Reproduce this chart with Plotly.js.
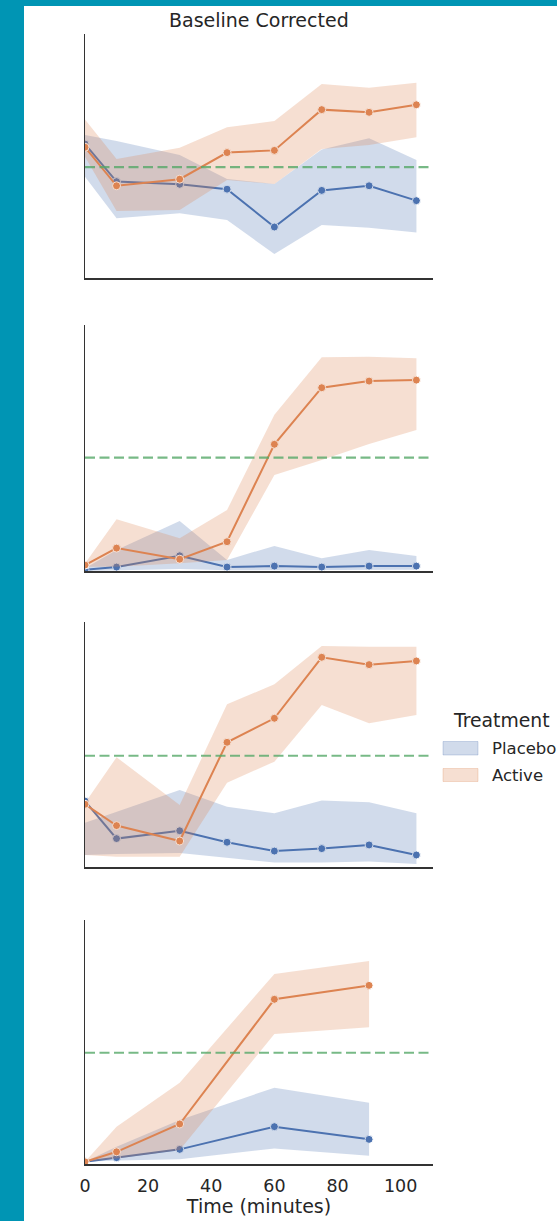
<!DOCTYPE html>
<html>
<head>
<meta charset="utf-8">
<script src="https://cdn.plot.ly/plotly-3.0.1.min.js"></script>
<style>
  html, body { margin: 0; padding: 0; background: #0095b4; width: 557px; height: 1221px; overflow: hidden; }
  #chart { position: absolute; left: 24px; top: 6px; width: 533px; height: 1215px; background: #ffffff; }
</style>
</head>
<body>
<div id="chart"></div>
<script>
// ---------------- data (arbitrary units, no y labels in the source) ----------------
const times = [0, 10, 30, 45, 60, 75, 90, 105];
const times4 = [0, 10, 30, 60, 90];
const xTickLabels = [0, 20, 40, 60, 80, 100];
const seriesNames = ["Placebo", "Active"];

const p1PlaceboMean  = [54.9, 39.5, 38.4, 36.4, 20.9, 35.9, 37.8, 31.7];
const p1PlaceboUpper = [58.6, 56.1, 50.4, 40.6, 38.5, 52.7, 57.3, 48.4];
const p1PlaceboLower = [41.5, 24.5, 26.5, 23.8, 9.8, 21.7, 20.6, 18.6];
const p1ActiveMean   = [53.6, 37.8, 40.5, 51.4, 52.3, 69.0, 67.9, 71.0];
const p1ActiveUpper  = [65.0, 48.8, 53.4, 61.8, 64.3, 79.5, 78.0, 80.0];
const p1ActiveLower  = [49.7, 27.5, 27.9, 40.2, 38.5, 52.9, 54.5, 57.7];

const p2PlaceboMean  = [0.5, 1.6, 6.2, 1.6, 2.0, 1.6, 2.0, 2.0];
const p2PlaceboUpper = [1.1, 8.5, 20.3, 4.5, 10.2, 5.2, 8.5, 6.1];
const p2PlaceboLower = [0.0, 0.3, 0.8, 0.3, 0.5, 0.4, 0.5, 0.5];
const p2ActiveMean   = [2.4, 9.3, 4.8, 11.9, 51.5, 74.5, 77.2, 77.6];
const p2ActiveUpper  = [3.0, 21.0, 13.3, 24.8, 63.5, 86.9, 87.1, 86.5];
const p2ActiveLower  = [1.7, 1.7, 3.1, 4.5, 39.0, 45.1, 51.6, 57.3];

const p3PlaceboMean  = [26.9, 11.6, 14.8, 10.1, 6.5, 7.5, 9.0, 4.9];
const p3PlaceboUpper = [18.1, 22.6, 31.4, 24.6, 21.9, 27.1, 26.4, 21.9];
const p3PlaceboLower = [4.9, 5.3, 5.7, 3.7, 1.8, 1.8, 2.2, 1.2];
const p3ActiveMean   = [25.6, 16.9, 10.6, 50.9, 60.7, 85.6, 82.6, 84.1];
const p3ActiveUpper  = [26.1, 44.8, 25.3, 66.4, 74.6, 90.2, 89.9, 89.9];
const p3ActiveLower  = [4.9, 4.2, 4.2, 34.4, 43.0, 66.1, 58.7, 62.0];

const p4PlaceboMean  = [0.9, 2.6, 6.0, 15.3, 10.1];
const p4PlaceboUpper = [0.9, 7.1, 18.0, 31.3, 25.1];
const p4PlaceboLower = [0.9, 1.4, 1.9, 6.4, 3.4];
const p4ActiveMean   = [0.9, 5.0, 16.4, 67.5, 73.2];
const p4ActiveUpper  = [0.9, 15.3, 33.3, 77.9, 83.2];
const p4ActiveLower  = [0.9, 2.3, 5.7, 53.3, 56.0];

const thresholds = [45.4, 46.1, 45.4, 45.6];

// ---------------- styling ----------------
const BLUE = "#4c72b0", ORANGE = "#dd8452";
const BLUE_BAND = "rgba(76,114,176,0.26)", ORANGE_BAND = "rgba(221,132,82,0.26)";
const GREEN = "rgba(85,168,104,0.8)";
const TEXT = "#262626";
const FONT = "DejaVu Sans, sans-serif";

const panels = [
  { x: times,  pm: p1PlaceboMean, pu: p1PlaceboUpper, pl: p1PlaceboLower, am: p1ActiveMean, au: p1ActiveUpper, al: p1ActiveLower },
  { x: times,  pm: p2PlaceboMean, pu: p2PlaceboUpper, pl: p2PlaceboLower, am: p2ActiveMean, au: p2ActiveUpper, al: p2ActiveLower },
  { x: times,  pm: p3PlaceboMean, pu: p3PlaceboUpper, pl: p3PlaceboLower, am: p3ActiveMean, au: p3ActiveUpper, al: p3ActiveLower },
  { x: times4, pm: p4PlaceboMean, pu: p4PlaceboUpper, pl: p4PlaceboLower, am: p4ActiveMean, au: p4ActiveUpper, al: p4ActiveLower }
];

// pixel layout of the source (div coordinates: page minus 24,6)
const W = 533, H = 1215;
const xDom = [61 / W, 409 / W];
const panelPx = [[28, 272], [319, 565], [616, 861], [914, 1158]];
const yDoms = panelPx.map(p => [1 - p[1] / H, 1 - p[0] / H]);

function band(x, up, lo, color, xa, ya, name) {
  return {
    x: x.concat(x.slice().reverse()),
    y: up.concat(lo.slice().reverse()),
    type: "scatter", mode: "lines", fill: "toself", fillcolor: color,
    line: { width: 0, color: color }, hoverinfo: "skip", showlegend: false,
    xaxis: xa, yaxis: ya, name: name
  };
}
function line(x, y, color, xa, ya, name) {
  return {
    x: x, y: y, type: "scatter", mode: "lines+markers", name: name,
    line: { color: color, width: 2 },
    marker: { color: color, size: 8, line: { color: "#ffffff", width: 1 } },
    showlegend: false, xaxis: xa, yaxis: ya
  };
}

const traces = [];
const layout = {
  width: W, height: H,
  margin: { l: 0, r: 0, t: 0, b: 0 },
  paper_bgcolor: "#ffffff", plot_bgcolor: "#ffffff",
  font: { family: FONT, color: TEXT, size: 18 },
  showlegend: false,
  shapes: [], annotations: []
};

panels.forEach((p, i) => {
  const n = i + 1;
  const xa = n === 1 ? "x" : "x" + n;
  const ya = n === 1 ? "y" : "y" + n;
  traces.push(line(p.x, p.pm, BLUE, xa, ya, seriesNames[0]));
  traces.push(band(p.x, p.pu, p.pl, BLUE_BAND, xa, ya, seriesNames[0]));
  traces.push(line(p.x, p.am, ORANGE, xa, ya, seriesNames[1]));
  traces.push(band(p.x, p.au, p.al, ORANGE_BAND, xa, ya, seriesNames[1]));

  const xKey = n === 1 ? "xaxis" : "xaxis" + n;
  const yKey = n === 1 ? "yaxis" : "yaxis" + n;
  layout[xKey] = {
    domain: xDom, anchor: ya, range: [0, 110.25],
    showline: true, linecolor: "#333333", linewidth: 1.5,
    showgrid: false, zeroline: false, ticks: "",
    showticklabels: n === 4,
    tickvals: xTickLabels, ticktext: xTickLabels.map(String),
    tickfont: { family: FONT, size: 17.5, color: TEXT },
    ticklabelstandoff: 5
  };
  if (n !== 1) layout[xKey].matches = "x";
  if (n === 4) {
    layout[xKey].title = { text: "Time (minutes)", font: { family: FONT, size: 19, color: TEXT }, standoff: 5 };
  }
  layout[yKey] = {
    domain: yDoms[i], anchor: xa, range: [0, 100],
    showline: true, linecolor: "#333333", linewidth: 1.5,
    showgrid: false, zeroline: false, ticks: "", showticklabels: false
  };
  layout.shapes.push({
    type: "line", xref: xa + " domain", yref: ya,
    x0: 0, x1: 1, y0: thresholds[i], y1: thresholds[i],
    line: { color: GREEN, width: 2.2, dash: "10px,4.5px" }, layer: "above"
  });
});

// title
layout.annotations.push({
  text: "Baseline Corrected", xref: "paper", yref: "paper",
  x: (xDom[0] + xDom[1]) / 2, y: 1 - 14 / H, xanchor: "center", yanchor: "middle",
  showarrow: false, font: { family: FONT, size: 19, color: TEXT }
});

// legend (drawn manually to match the source placement)
const legX0 = 419 / W, legX1 = 454 / W;
layout.annotations.push({
  text: "Treatment", xref: "paper", yref: "paper",
  x: 427 / W, y: 1 - 714.5 / H, xanchor: "left", yanchor: "middle",
  showarrow: false, font: { family: FONT, size: 18.8, color: TEXT }
});
const legRows = [[735.5, 749], [762.5, 775.5]];
const legColors = [BLUE_BAND, ORANGE_BAND];
seriesNames.forEach((nm, k) => {
  layout.shapes.push({
    type: "rect", xref: "paper", yref: "paper",
    x0: legX0, x1: legX1, y0: 1 - legRows[k][1] / H, y1: 1 - legRows[k][0] / H,
    fillcolor: legColors[k], line: { color: legColors[k], width: 1 }
  });
  layout.annotations.push({
    text: nm, xref: "paper", yref: "paper",
    x: 466 / W, y: 1 - (legRows[k][0] + legRows[k][1]) / 2 / H, xanchor: "left", yanchor: "middle",
    showarrow: false, font: { family: FONT, size: 16.5, color: TEXT }
  });
});

Plotly.newPlot("chart", traces, layout, { staticPlot: true, displayModeBar: false });
</script>
</body>
</html>
